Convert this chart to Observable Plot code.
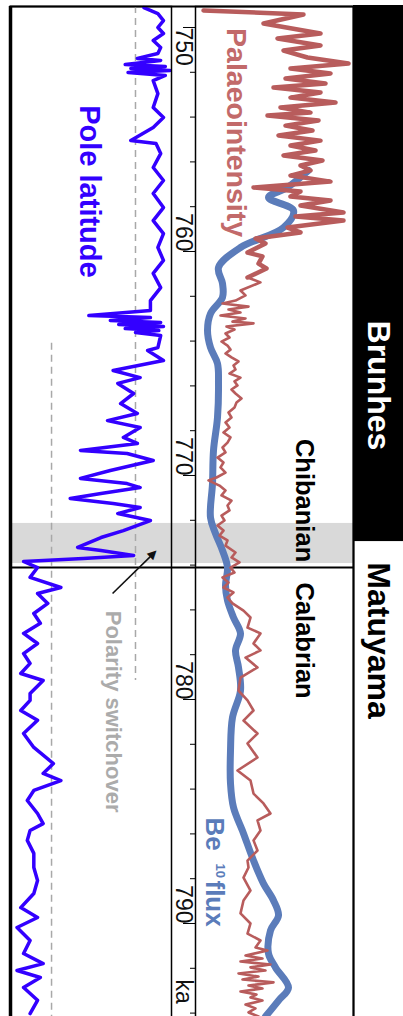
<!DOCTYPE html>
<html><head><meta charset="utf-8">
<script src="https://cdn.jsdelivr.net/npm/d3@7"></script>
<script src="https://cdn.jsdelivr.net/npm/@observablehq/plot@0.6"></script>
<style>
html,body{margin:0;padding:0;background:#fff;}
#chart{position:relative;width:403px;height:1016px;overflow:hidden;background:#fff;}
#chart svg{position:absolute;left:0;top:0;}
</style></head><body><div id="chart"></div>
<script>
// ---- data (ages in ka) ----
const poleAge = [749.11,749.38,749.69,750.00,750.27,750.58,750.89,751.16,751.38,751.47,751.65,751.74,751.83,751.92,752.01,752.14,752.37,752.95,753.57,754.02,754.46,755.05,755.18,755.63,756.25,756.83,757.41,758.04,758.62,759.20,759.82,760.40,760.98,761.61,762.19,762.63,762.86,762.95,763.08,763.17,763.26,763.35,763.44,763.53,763.62,763.75,764.29,764.42,764.87,765.31,765.63,765.89,766.34,766.79,767.23,767.55,767.86,768.30,768.57,768.88,769.02,769.33,769.78,770.13,770.36,770.54,770.80,771.03,771.25,771.43,771.70,772.01,772.46,772.77,773.21,773.35,773.57,773.71,773.84,774.11,774.55,775.00,775.27,775.71,776.16,776.60,777.05,777.50,777.95,778.39,778.84,779.15,779.73,780.04,780.49,780.93,781.52,782.14,782.86,783.30,783.62,784.06,784.51,785.09,785.54,785.85,786.29,786.87,787.50,788.08,788.66,789.29,789.73,790.18,790.76,791.34,791.79,792.10,792.41,792.86,793.43,794.02];
const poleLat = [54,69,75,69,75,64,72,69,47,72,34,77,40,82,37,77,64,69,64,75,64,40,67,72,64,75,64,75,64,75,69,75,64,72,61,61,-5,61,18,72,27,75,34,70,45,72,69,58,75,21,50,26,43,29,47,15,50,32,47,-14,36,64,18,-14,36,50,8,-25,21,50,26,61,32,8,-17,8,43,-11,-75,-60,-68,-35,-60,-49,-64,-57,-75,-60,-75,-68,-78,-54,-68,-68,-78,-60,-75,-64,-43,-54,-35,-64,-71,-60,-54,-68,-71,-64,-64,-60,-64,-78,-60,-82,-68,-75,-54,-82,-57,-75,-60,-68];

const intAge = [749.24,749.42,749.82,750.27,750.49,750.80,751.03,751.34,751.61,751.83,752.05,752.28,752.50,752.68,752.90,753.13,753.35,753.57,753.80,753.93,754.15,754.38,754.60,754.82,755.05,755.27,755.49,755.71,755.94,756.16,756.38,756.61,756.88,757.14,757.32,757.55,757.72,757.95,758.26,758.44,758.62,758.93,759.15,759.42,759.64,760.05,760.22,760.54,760.76,761.16,761.38,761.74,761.96,762.19,762.32,762.46,762.59,762.72,762.86,762.99,763.13,763.21,763.35,763.48,763.66,763.84,764.02,764.20,764.38,764.55,764.73,764.91,765.09,765.27,765.45,765.63,765.80,765.98,766.16,766.34,766.56,766.74,766.96,767.19,767.41,767.63,767.86,768.08,768.30,768.53,768.75,768.97,769.20,769.42,769.64,769.87,770.09,770.22,770.45,770.67,770.89,771.12,771.34,771.56,771.79,772.01,772.23,772.46,772.68,772.90,773.13,773.44,773.66,773.88,774.11,774.33,774.55,774.78,775.00,775.22,775.45,775.71,776.03,776.34,776.79,777.05,777.50,777.81,778.13,778.57,779.02,779.60,780.04,780.49,780.94,781.52,781.96,782.59,783.17,783.62,784.20,784.64,785.09,785.40,785.85,786.29,786.74,787.19,787.50,787.95,788.53,788.97,789.55,790.00,790.45,790.76,791.07,791.21,791.43,791.56,791.70,791.83,791.96,792.10,792.23,792.37,792.50,792.63,792.77,792.90,793.04,793.17,793.30,793.44,793.62,793.79,793.97,794.15];
const intVal = [0.8,10.8,6.8,12.5,8.2,12.5,8.8,11.2,15.3,9.5,13.5,9.0,13.0,7.8,12.5,9.5,14.0,8.5,11.5,7.2,12.3,9.0,11.7,8.3,12.5,9.5,12.0,8.8,12.7,10.5,11.5,9.5,13.5,5.8,10.5,9.5,13.5,10.5,14.8,10.0,14.8,9.2,10.5,6.0,7.0,5.2,6.7,6.3,7.1,5.2,6.5,4.5,5.0,4.0,2.7,5.3,3.3,4.5,2.5,5.0,3.7,5.8,3.1,3.9,3.0,3.4,2.6,3.2,3.5,3.0,3.6,4.3,3.8,4.0,3.4,4.5,3.9,4.2,3.6,4.0,4.6,4.1,3.9,3.3,3.6,3.0,3.4,2.8,3.5,3.2,2.7,3.0,2.2,2.8,2.5,3.0,2.1,1.3,2.4,3.0,2.6,3.6,3.2,3.4,2.6,2.9,2.2,2.8,2.4,3.2,3.0,4.0,3.6,4.4,3.5,3.9,2.7,3.3,2.8,3.8,3.2,3.7,4.8,5.5,5.2,6.5,5.8,6.5,5.0,6.2,4.5,4.3,5.2,5.8,4.8,6.2,5.2,6.2,4.2,5.5,5.8,6.8,7.5,6.2,6.5,5.8,6.2,5.2,5.3,4.8,5.5,4.8,4.5,5.5,5.2,6.5,6.0,7.2,5.0,6.7,4.5,7.5,5.5,7.0,4.3,6.3,4.7,7.8,5.3,6.7,4.5,6.1,5.5,6.7,5.0,6.0,5.3,6.3];

const beAge = [756.38,757.14,757.59,758.17,758.93,759.82,760.71,761.43,762.05,762.77,763.53,764.29,765.00,765.89,767.41,768.88,770.36,771.88,772.59,773.35,774.11,774.91,775.58,776.34,777.05,777.81,778.57,779.60,780.80,782.28,783.75,784.82,785.98,787.19,788.22,788.97,789.64,790.31,791.34,791.96,792.86,793.44,794.15];
const beVal = [11.3,9.2,7.3,9.8,8.8,4.5,2.3,2.7,2.7,1.5,1.2,1.5,2.2,2.3,2.2,1.8,1.7,1.5,2.0,2.7,3.2,3.0,3.2,3.8,4.5,4.0,4.3,4.5,3.7,3.5,3.5,3.8,4.8,5.8,6.8,7.8,8.3,7.5,7.3,8.0,9.3,8.3,7.0];

const majorTicks = [750,760,770,780,790];
const minorTicks = [752,754,756,758,762,764,766,768,772,774,776,778,782,784,786,788,792,794];
const unitLabel = "ka";

const switchAge = [774.11];          // polarity switchover
const bandFrom = [772.14], bandTo = [773.93];
const refLat = [45, -45], refFrom = [749.06, 764.1], refTo = [779.15, 794.15];

const chronName = ["Brunhes", "Matuyama"];
const chronFrom = [0, 772.95], chronTo = [772.95, 2580];
const chronLabelAge = [765.98, 777.37];
const stageName = ["Chibanian", "Calabrian"];
const stageLabelAge = [771.12, 777.37];

// ---- build tables ----
const zip = (a, b, ka, kb) => a.slice(0, Math.min(a.length, b.length)).map((v, i) => ({[ka]: v, [kb]: b[i]}));
const pole = zip(poleAge, poleLat, "age", "lat");
const intensity = zip(intAge, intVal, "age", "v");
const be = zip(beAge, beVal, "age", "v");
const refs = refLat.map((l, i) => ({lat: l, from: refFrom[i], to: refTo[i]}));
const band = bandFrom.map((f, i) => ({from: f, to: bandTo[i]}));
const chrons = chronName.map((n, i) => ({name: n, from: chronFrom[i], to: chronTo[i], mid: chronLabelAge[i]}));
const stages = stageName.map((n, i) => ({name: n, age: stageLabelAge[i]}));
const SPLIT = 761.16;

const FONT = "'Liberation Sans', Arial, Helvetica, sans-serif";
const chart = document.getElementById("chart");
const Y = {domain: [748.795, 794.152], range: [0, 1016], axis: null};
function add(opts) {
  const svg = Plot.plot(Object.assign({
    width: 403, height: 1024, y: Y,
    style: {background: "transparent", overflow: "visible", fontFamily: FONT}
  }, opts));
  chart.appendChild(svg);
}

// base layer: band, switchover line, outer frame
add({
  marginTop: 6, marginLeft: 10, marginRight: 50, marginBottom: 0,
  marks: [
    Plot.rect(band, {y1: "from", y2: "to", fill: "#d9d9d9"}),
    Plot.ruleY(switchAge, {stroke: "#000", strokeWidth: 2}),
    Plot.frame({stroke: "#000", strokeWidth: 2})
  ]
});

// pole latitude panel
add({
  marginTop: 6, marginLeft: 10, marginRight: 232, marginBottom: 0,
  x: {domain: [-89, 83.6], axis: null},
  marks: [
    Plot.ruleX(refs, {x: "lat", y1: "from", y2: "to", stroke: "#a8a8a8", strokeWidth: 1.5, strokeDasharray: "7,5"}),
    Plot.line(pole, {x: "lat", y: "age", stroke: "#3300ff", strokeWidth: 3.5}),
    Plot.frame({stroke: "#000", strokeWidth: 1.5}),
    Plot.ruleX([-89], {stroke: "#000", strokeWidth: 3.5}),
    Plot.text(["Pole latitude"], {x: [-4.3], y: [757.32], text: d => d, rotate: 90, textAnchor: "middle", lineAnchor: "middle",
      fill: "#3300ff", fontSize: 29, fontWeight: "bold", fontFamily: FONT}),
    Plot.text(["Polarity switchover"], {x: [20.4], y: [780.54], text: d => d, rotate: 90, textAnchor: "middle", lineAnchor: "middle",
      fill: "#ababab", fontSize: 22, fontWeight: "bold", fontFamily: FONT}),
    Plot.link([{x1: 20.4, y1: 775.27, x2: 63.9, y2: 773.50}], {x1: "x1", y1: "y1", x2: "x2", y2: "y2", stroke: "#111", strokeWidth: 1.6}),
    Plot.text(["\u25B2"], {x: [64.5], y: [773.47], text: d => d, rotate: 45, textAnchor: "middle", lineAnchor: "middle",
      fill: "#111", fontSize: 12, fontFamily: "DejaVu Sans"})
  ]
});

// time axis column
add({
  marginTop: 6, marginLeft: 171, marginRight: 208, marginBottom: 0,
  marks: [
    Plot.tickY(minorTicks, {y: d => d, insetLeft: 19, stroke: "#000", strokeWidth: 1}),
    Plot.tickY(majorTicks, {y: d => d, insetLeft: 12, stroke: "#000", strokeWidth: 1}),
    Plot.text(majorTicks.slice(1), {y: d => d, text: d => String(d), rotate: 90, textAnchor: "end", lineAnchor: "middle",
      frameAnchor: "middle", fontSize: 23, fill: "#111", fontFamily: FONT}),
    Plot.text(majorTicks.slice(0, 1), {y: d => d, text: d => String(d), rotate: 90, textAnchor: "start", lineAnchor: "middle",
      frameAnchor: "middle", fontSize: 23, fill: "#111", fontFamily: FONT}),
    Plot.text([unitLabel], {y: [793.04], text: d => d, rotate: 90, textAnchor: "middle", lineAnchor: "middle",
      frameAnchor: "middle", fontSize: 23, fill: "#111", fontFamily: FONT})
  ]
});

// palaeointensity / Be10 panel
add({
  marginTop: 6, marginLeft: 195, marginRight: 50, marginBottom: 0,
  x: {domain: [0, 15.8], axis: null},
  marks: [
    Plot.line(be, {x: "v", y: "age", stroke: "#5b7cba", strokeWidth: 7, curve: "catmull-rom"}),
    Plot.line(intensity.filter(d => d.age <= SPLIT), {x: "v", y: "age", stroke: "#b85c5c", strokeWidth: 4.5}),
    Plot.line(intensity.filter(d => d.age >= SPLIT), {x: "v", y: "age", stroke: "#b85c5c", strokeWidth: 2.6}),
    Plot.frame({stroke: "#000", strokeWidth: 1.5}),
    Plot.text(["Palaeointensity"], {x: [4.1], y: [754.69], text: d => d, rotate: 90, textAnchor: "middle", lineAnchor: "middle",
      fill: "#c26a6a", fontSize: 28.5, fontWeight: "bold", fontFamily: FONT}),
    Plot.text(["Be"], {x: [1.85], y: [785.27], text: d => d, rotate: 90, textAnchor: "start", lineAnchor: "middle",
      fill: "#5b7cba", fontSize: 26, fontWeight: "bold", fontFamily: FONT}),
    Plot.text(["10"], {x: [2.45], y: [787.32], text: d => d, rotate: 90, textAnchor: "start", lineAnchor: "middle",
      fill: "#5b7cba", fontSize: 13, fontWeight: "bold", fontFamily: FONT}),
    Plot.text(["flux"], {x: [1.85], y: [788.08], text: d => d, rotate: 90, textAnchor: "start", lineAnchor: "middle",
      fill: "#5b7cba", fontSize: 26, fontWeight: "bold", fontFamily: FONT}),
    Plot.text(stages, {x: () => 10.9, y: "age", text: "name", rotate: 90, textAnchor: "middle", lineAnchor: "middle",
      fill: "#000", fontSize: 25.5, fontWeight: "bold", fontFamily: FONT})
  ]
});

// chron bar
add({
  marginTop: 5, marginLeft: 353, marginRight: 0, marginBottom: 0,
  marks: [
    Plot.rect(chrons.filter(d => d.name === "Brunhes"), {y1: "from", y2: "to", fill: "#000", clip: true}),
    Plot.text(chrons.filter(d => d.name === "Brunhes"), {y: "mid", text: "name", rotate: 90, textAnchor: "middle", lineAnchor: "middle",
      frameAnchor: "middle", fill: "#fff", fontSize: 32, fontWeight: "bold", fontFamily: FONT}),
    Plot.text(chrons.filter(d => d.name === "Matuyama"), {y: "mid", text: "name", rotate: 90, textAnchor: "middle", lineAnchor: "middle",
      frameAnchor: "middle", fill: "#000", fontSize: 32, fontWeight: "bold", fontFamily: FONT})
  ]
});
</script>
</body></html>
